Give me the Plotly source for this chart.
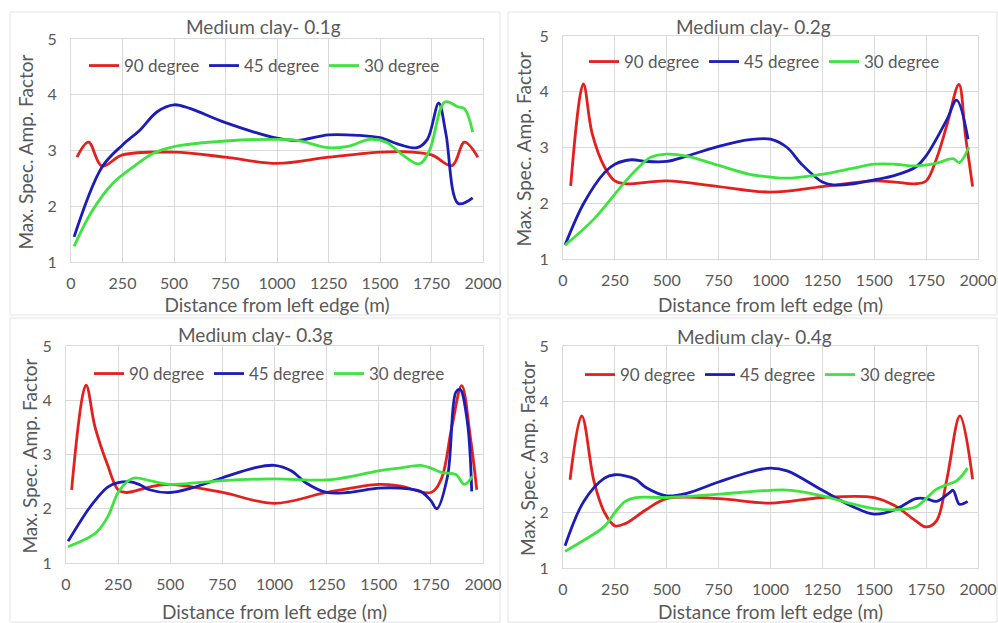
import plotly.graph_objects as go

# ---------------- data ----------------
panel_titles = ["Medium clay- 0.1g", "Medium clay- 0.2g", "Medium clay- 0.3g", "Medium clay- 0.4g"]
series_names = ["90 degree", "45 degree", "30 degree"]

# Panel 1 (0.1g)
p1_90_x = [29, 85, 150, 250, 500, 750, 1000, 1250, 1500, 1600, 1750, 1850, 1910, 1975]
p1_90_y = [2.88, 3.15, 2.72, 2.92, 2.97, 2.88, 2.77, 2.88, 2.97, 2.98, 2.92, 2.73, 3.15, 2.88]
p1_45_x = [15, 150, 250, 330, 420, 500, 580, 750, 1000, 1100, 1250, 1400, 1500, 1600, 1680, 1730, 1785, 1820, 1880, 1950]
p1_45_y = [1.45, 2.7, 3.1, 3.35, 3.7, 3.82, 3.75, 3.5, 3.22, 3.18, 3.28, 3.27, 3.23, 3.1, 3.05, 3.2, 3.85, 3.3, 2.05, 2.15]
p1_30_x = [15, 100, 200, 300, 400, 500, 750, 1000, 1100, 1250, 1350, 1450, 1530, 1600, 1690, 1740, 1815, 1880, 1910, 1950]
p1_30_y = [1.28, 1.9, 2.4, 2.7, 2.95, 3.07, 3.17, 3.2, 3.18, 3.05, 3.08, 3.2, 3.15, 2.95, 2.76, 3.0, 3.87, 3.78, 3.75, 3.33]

# Panel 2 (0.2g)
p2_90_x = [37, 98, 140, 200, 250, 300, 500, 750, 1000, 1250, 1500, 1600, 1700, 1750, 1800, 1850, 1908, 1940, 1974]
p2_90_y = [2.31, 4.14, 3.26, 2.65, 2.4, 2.35, 2.4, 2.3, 2.2, 2.3, 2.4, 2.38, 2.35, 2.4, 2.8, 3.4, 4.13, 3.2, 2.3]
p2_45_x = [10, 100, 200, 250, 330, 400, 500, 600, 750, 900, 1000, 1080, 1150, 1250, 1300, 1400, 1500, 1600, 1700, 1750, 1850, 1897, 1952]
p2_45_y = [1.25, 2.0, 2.55, 2.7, 2.78, 2.75, 2.75, 2.85, 3.02, 3.14, 3.15, 3.0, 2.7, 2.38, 2.33, 2.35, 2.42, 2.5, 2.65, 2.85, 3.5, 3.85, 3.15]
p2_30_x = [10, 150, 307, 380, 420, 500, 600, 750, 900, 1000, 1100, 1250, 1400, 1500, 1600, 1700, 1800, 1880, 1910, 1955]
p2_30_y = [1.25, 1.72, 2.42, 2.7, 2.82, 2.88, 2.84, 2.68, 2.52, 2.47, 2.45, 2.52, 2.63, 2.7, 2.7, 2.67, 2.72, 2.8, 2.73, 3.0]

# Panel 3 (0.3g)
p3_90_x = [27, 96, 139, 200, 250, 290, 400, 500, 750, 1000, 1250, 1500, 1600, 1750, 1800, 1850, 1898, 1940, 1970]
p3_90_y = [2.35, 4.28, 3.51, 2.8, 2.35, 2.3, 2.4, 2.45, 2.3, 2.1, 2.3, 2.45, 2.42, 2.3, 2.55, 3.5, 4.27, 3.3, 2.35]
p3_45_x = [10, 100, 150, 200, 250, 300, 350, 400, 500, 600, 750, 900, 1000, 1080, 1150, 1250, 1350, 1500, 1600, 1700, 1750, 1778, 1830, 1870, 1890, 1925, 1946]
p3_45_y = [1.4, 1.95, 2.2, 2.4, 2.48, 2.5, 2.45, 2.35, 2.3, 2.38, 2.57, 2.75, 2.8, 2.7, 2.48, 2.3, 2.3, 2.38, 2.38, 2.32, 2.15, 2.0, 2.6, 4.15, 4.2, 3.6, 2.32]
p3_30_x = [10, 100, 150, 200, 250, 300, 330, 400, 500, 750, 1000, 1250, 1400, 1500, 1600, 1700, 1750, 1800, 1870, 1910, 1950]
p3_30_y = [1.3, 1.45, 1.58, 1.85, 2.3, 2.52, 2.57, 2.52, 2.45, 2.52, 2.55, 2.53, 2.62, 2.7, 2.75, 2.8, 2.75, 2.67, 2.63, 2.45, 2.6]

# Panel 4 (0.4g)
p4_90_x = [34, 90, 150, 200, 250, 300, 400, 500, 750, 1000, 1250, 1500, 1600, 1700, 1750, 1800, 1850, 1913, 1974]
p4_90_y = [2.59, 3.74, 2.55, 2.0, 1.76, 1.8, 2.05, 2.25, 2.25, 2.17, 2.27, 2.27, 2.12, 1.85, 1.74, 1.85, 2.6, 3.74, 2.6]
p4_45_x = [10, 100, 200, 250, 300, 350, 400, 500, 600, 750, 900, 1000, 1080, 1250, 1400, 1500, 1600, 1700, 1750, 1800, 1860, 1880, 1910, 1950]
p4_45_y = [1.4, 2.2, 2.62, 2.68, 2.66, 2.6, 2.45, 2.3, 2.35, 2.55, 2.73, 2.8, 2.75, 2.4, 2.1, 1.97, 2.05, 2.25, 2.25, 2.2, 2.35, 2.4, 2.15, 2.2]
p4_30_x = [10, 100, 200, 250, 300, 350, 500, 750, 1000, 1100, 1250, 1400, 1500, 1600, 1700, 1750, 1800, 1850, 1900, 1950]
p4_30_y = [1.3, 1.5, 1.75, 2.0, 2.2, 2.27, 2.27, 2.33, 2.4, 2.4, 2.3, 2.15, 2.07, 2.05, 2.1, 2.25, 2.42, 2.5, 2.58, 2.8]

x_tick_vals = [0, 250, 500, 750, 1000, 1250, 1500, 1750, 2000]
y_tick_vals = [1, 2, 3, 4, 5]
x_title = "Distance from left edge (m)"
y_title = "Max. Spec. Amp. Factor"

# ---------------- styling ----------------
W, H = 998, 623
FONT = "Lato"
GRAY = "#595959"
GRID = "#d9d9d9"
colors = ["#e3201c", "#1c1cb8", "#3ee43e"]

panels = [
    dict(xs=[p1_90_x, p1_45_x, p1_30_x], ys=[p1_90_y, p1_45_y, p1_30_y],
         xpx=(71, 483), ypx=(39, 262), title=(263, 26), leg=(84, 66), ytit=25, xstand=7),
    dict(xs=[p2_90_x, p2_45_x, p2_30_x], ys=[p2_90_y, p2_45_y, p2_30_y],
         xpx=(563, 978), ypx=(36, 259), title=(753, 26), leg=(584, 62), ytit=523, xstand=10),
    dict(xs=[p3_90_x, p3_45_x, p3_30_x], ys=[p3_90_y, p3_45_y, p3_30_y],
         xpx=(66, 483), ypx=(346, 563), title=(256, 334), leg=(89, 374), ytit=29, xstand=13),
    dict(xs=[p4_90_x, p4_45_x, p4_30_x], ys=[p4_90_y, p4_45_y, p4_30_y],
         xpx=(563, 978), ypx=(346, 568), title=(754, 336), leg=(580, 375), ytit=527, xstand=10),
]

fig = go.Figure()
layout = dict(
    width=W, height=H, margin=dict(l=0, r=0, t=0, b=0),
    paper_bgcolor="white", plot_bgcolor="white",
    font=dict(family=FONT, color=GRAY, size=16),
    showlegend=True, annotations=[], shapes=[],
)

for i, p in enumerate(panels):
    k = "" if i == 0 else str(i + 1)
    legname = "legend" + k
    for j in range(3):
        fig.add_trace(go.Scatter(
            x=p["xs"][j], y=p["ys"][j], mode="lines", name=series_names[j],
            line=dict(color=colors[j], width=2.8, shape="spline", smoothing=1.0),
            xaxis="x" + k, yaxis="y" + k, legend=legname, hoverinfo="skip",
        ))
    x0, x1 = p["xpx"]
    yt, yb = p["ypx"]
    layout["xaxis" + k] = dict(
        domain=[x0 / W, x1 / W], anchor="y" + k, range=[0, 2000],
        tickvals=x_tick_vals, showgrid=True, gridcolor=GRID, gridwidth=1,
        showline=True, linecolor=GRID, mirror=True, zeroline=False,
        ticks="", ticklabelstandoff=7, tickfont=dict(size=16, color=GRAY),
        title=dict(text=x_title, font=dict(size=19, color=GRAY), standoff=p["xstand"]),
        automargin=False, fixedrange=True,
    )
    layout["yaxis" + k] = dict(
        domain=[1 - yb / H, 1 - yt / H], anchor="x" + k, range=[1, 5],
        tickvals=y_tick_vals, showgrid=True, gridcolor=GRID, gridwidth=1,
        showline=True, linecolor=GRID, mirror=True, zeroline=False,
        ticks="", ticklabelstandoff=10, tickfont=dict(size=16, color=GRAY),
        automargin=False, fixedrange=True,
    )
    layout["annotations"].append(dict(
        text=panel_titles[i], x=p["title"][0] / W, y=1 - p["title"][1] / H,
        xref="paper", yref="paper", xanchor="center", yanchor="middle",
        showarrow=False, font=dict(size=19, color=GRAY, family=FONT)))
    layout["annotations"].append(dict(
        text=y_title, x=p["ytit"] / W, y=1 - ((yt + yb) / 2 + 2) / H,
        xref="paper", yref="paper", xanchor="center", yanchor="middle",
        textangle=-90, showarrow=False, font=dict(size=19, color=GRAY, family=FONT)))
    layout[legname] = dict(
        x=p["leg"][0] / W, y=1 - p["leg"][1] / H, xanchor="left", yanchor="middle",
        orientation="h", bgcolor="rgba(0,0,0,0)", borderwidth=0,
        font=dict(size=17, color=GRAY, family=FONT),
        entrywidth=75, entrywidthmode="pixels", itemwidth=30, tracegroupgap=0,
        itemclick=False, itemdoubleclick=False,
    )

# panel frames
frames = [(10, 12, 500, 315), (508, 12, 997, 315), (10, 318, 500, 622), (508, 318, 997, 622)]
for (a, b, c, d) in frames:
    layout["shapes"].append(dict(
        type="rect", xref="paper", yref="paper",
        x0=a / W, x1=c / W, y0=1 - d / H, y1=1 - b / H,
        line=dict(color="#e3e3e3", width=1), fillcolor="rgba(0,0,0,0)", layer="below"))

fig.update_layout(**layout)
fig.write_html("out.html", config={"displayModeBar": False},
               post_script="document.body.style.margin='0';document.body.style.overflow='hidden';")
